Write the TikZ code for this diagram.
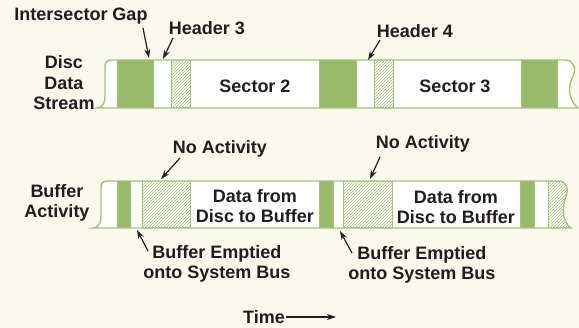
\documentclass[tikz,border=0pt]{standalone}
\usepackage{fontspec}
\setmainfont{Liberation Sans}
\usetikzlibrary{patterns,arrows.meta}
\definecolor{bg}{HTML}{FBF8EE}
\definecolor{gfill}{HTML}{97BA6B}
\definecolor{gline}{HTML}{A3C477}
\definecolor{ink}{HTML}{221C20}
\tikzset{
  lbl/.style={font=\bfseries\fontsize{18}{20.5}\selectfont, text=ink, inner sep=0pt, align=center},
  arr/.style={draw=ink, line width=1.2pt, -{Stealth[length=9pt,width=6pt]}},
  outl/.style={draw=gline, line width=1.4pt},
  gblk/.style={fill=gfill, draw=gline, line width=1pt},
  hblk/.style={fill=white, pattern=north east lines, pattern color=gline, draw=gline, line width=1pt},
}
\begin{document}
\begin{tikzpicture}[x=1pt,y=-1pt]
\fill[bg] (0,0) rectangle (579,328);
\useasboundingbox (0,0) rectangle (579,328);
% ---- top strip ----
\def\topstrip{(97,108) .. controls (104,107) and (105,102) .. (105,95) -- (105,67) .. controls (105,62) and (107,60) .. (112,60) -- (565,60) .. controls (573,60) and (577,68) .. (573,76) .. controls (569,84) and (568,95) .. (573,102) .. controls (575,105) and (576,107) .. (578,108) -- cycle}
\fill[white] \topstrip;
\begin{scope}
\clip \topstrip;
\path[gblk] (117,60) rectangle (153,108);
\path[hblk] (171,60) rectangle (190,108);
\path[gblk] (319,60) rectangle (356,108);
\path[hblk] (374,60) rectangle (393,108);
\path[gblk] (521,60) rectangle (557,108);
\end{scope}
\draw[outl] \topstrip;
% ---- bottom strip ----
\def\botstrip{(93,228) .. controls (100,227) and (101,222) .. (101,215) -- (101,188) .. controls (101,183) and (103,181) .. (108,181) -- (559,181) .. controls (566,181) and (569,188) .. (566,196) .. controls (563,204) and (562,215) .. (566,222) .. controls (567,225) and (569,227) .. (571,228) -- cycle}
\fill[white] \botstrip;
\begin{scope}
\clip \botstrip;
\path[gblk] (117,181) rectangle (130,228);
\path[hblk] (142,181) rectangle (190,228);
\path[gblk] (319,181) rectangle (333,228);
\path[hblk] (343,181) rectangle (392,228);
\path[gblk] (520,181) rectangle (534,228);
\path[hblk] (548,181) rectangle (580,228);
\end{scope}
\draw[outl] \botstrip;
% ---- labels ----
\node[lbl] (ig) at (81,16) {Intersector Gap};
\node[lbl] (h3) at (207,28) {Header 3};
\node[lbl] (h4) at (415,31) {Header 4};
\node[lbl] (dds) at (64,83) {Disc\\Data\\Stream};
\node[lbl] (s2) at (255,86) {Sector 2};
\node[lbl] (s3) at (455,86) {Sector 3};
\node[lbl] (ba) at (57,203) {Buffer\\Activity};
\node[lbl] (na1) at (220,149) {No Activity};
\node[lbl] (na2) at (423,144) {No Activity};
\node[lbl] (d1) at (255,206) {Data from\\Disc to Buffer};
\node[lbl] (d2) at (456,207) {Data from\\Disc to Buffer};
\node[lbl] (be1) at (217,264) {Buffer Emptied\\onto System Bus};
\node[lbl] (be2) at (422,265) {Buffer Emptied\\onto System Bus};
\node[lbl] (time) at (264,317) {Time};
% ---- arrows ----
\coordinate (igS) at (143,28);
\coordinate (igT) at (149,58);
\coordinate (h3S) at (173,38);
\coordinate (h3T) at (163,59);
\coordinate (h4S) at (380,40);
\coordinate (h4T) at (368,60);
\coordinate (na1S) at (180,158);
\coordinate (na1T) at (161,179);
\coordinate (na2S) at (380,157);
\coordinate (na2T) at (370,179);
\coordinate (be1S) at (148,251);
\coordinate (be1T) at (137,230);
\coordinate (be2S) at (352,253);
\coordinate (be2T) at (340,231);
\coordinate (tT) at (336,316);
\draw[arr] (igS) -- (igT);
\draw[arr] (h3S) -- (h3T);
\draw[arr] (h4S) -- (h4T);
\draw[arr] (na1S) -- (na1T);
\draw[arr] (na2S) -- (na2T);
\draw[arr] (be1S) -- (be1T);
\draw[arr] (be2S) -- (be2T);
\draw[arr] ([xshift=1pt]time.east) -- (tT |- time.east);
\end{tikzpicture}
\end{document}
